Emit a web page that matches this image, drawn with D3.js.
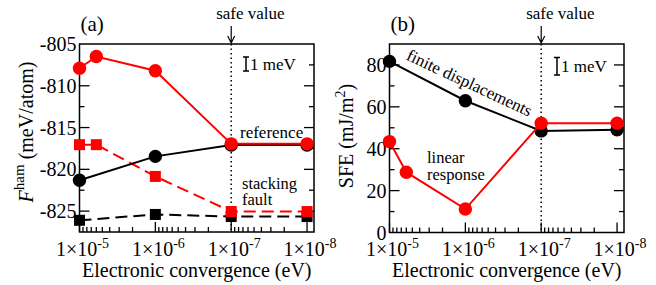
<!DOCTYPE html>
<html>
<head>
<meta charset="utf-8">
<script src="https://cdn.jsdelivr.net/npm/d3@7"></script>
<style>
  body { margin: 0; background: #fff; }
  svg { display: block; }
  svg text { font-family: "Liberation Serif", "Times New Roman", Times, "DejaVu Serif", serif; }
</style>
</head>
<body>
<script>
// x values (electronic convergence, eV)
var convRed = [1e-5, 6e-6, 1e-6, 1e-7, 1e-8],
    convBlack = [1e-5, 1e-6, 1e-7, 1e-8],
    xTickVals = [1e-5, 1e-6, 1e-7, 1e-8],
    xTickExp = ["-5", "-6", "-7", "-8"];

// panel (a): F^ham (meV/atom)
var refRed = [-807.9, -806.5, -808.2, -816.95, -816.95],
    refBlack = [-821.3, -818.45, -817.1, -817.1],
    sfRed = [-817.05, -817.05, -820.85, -825.05, -825.05],
    sfBlack = [-826.1, -825.4, -825.65, -825.65],
    yTicksA = [-825, -820, -815, -810, -805];

// panel (b): SFE (mJ/m^2)
var fdBlack = [81.7, 62.9, 48.5, 49.0],
    lrRed = [43.4, 28.8, 11.2, 52.2, 52.2],
    yTicksB = [0, 20, 40, 60, 80];

var safeValue = 1e-7;
var serif = '"Liberation Serif", "Times New Roman", Times, serif';

var svg = d3.select('body').append('svg').attr('width', 656).attr('height', 285)
    .attr('font-family', serif);

function zip(xs, ys) {
    return xs.map(function(x, i) { return [x, ys[i]]; });
}

function label(g, x, y, size, str) {
    return g.append('text').attr('x', x).attr('y', y)
        .style('font-family', serif).attr('font-size', size).text(str);
}

function drawPanel(p) {
    var g = svg.append('g'),
        x = d3.scaleLog().domain([1e-5, 8.1e-9]).range([p.left, p.right]),
        y = d3.scaleLinear().domain(p.yDomain).range([p.bottom, p.top]);

    // dotted "safe value" line
    g.append('line')
        .attr('x1', x(safeValue)).attr('x2', x(safeValue))
        .attr('y1', p.top).attr('y2', p.bottom)
        .attr('stroke', '#000').attr('stroke-width', 1.5)
        .attr('stroke-dasharray', '1.5,3');

    // y ticks (inward, both sides)
    var yMinor = d3.range(p.yDomain[0], p.yDomain[1] + 0.001, p.yMinorStep);
    yMinor.forEach(function(v) {
        var major = p.yTicks.indexOf(Math.round(v * 100) / 100) >= 0,
            len = major ? 10 : 5;
        if (y(v) < p.top + 0.5 || y(v) > p.bottom - 0.5) return;
        g.append('line').attr('x1', p.left).attr('x2', p.left + len)
            .attr('y1', y(v)).attr('y2', y(v)).attr('stroke', '#000').attr('stroke-width', 1.3);
        g.append('line').attr('x1', p.right).attr('x2', p.right - len)
            .attr('y1', y(v)).attr('y2', y(v)).attr('stroke', '#000').attr('stroke-width', 1.3);
    });
    p.yTicks.forEach(function(v) {
        label(g, p.left - 3, y(v) + 7, 20, v).attr('text-anchor', 'end');
    });

    // x ticks (log, inward from bottom)
    [1e-8, 1e-7, 1e-6, 1e-5].forEach(function(dec) {
        for (var k = 1; k <= 9; k++) {
            var v = dec * k;
            if (v > 1e-5 * 1.0001 || v < 8.1e-9) continue;
            var len = k === 1 ? 10 : 5;
            g.append('line').attr('x1', x(v)).attr('x2', x(v))
                .attr('y1', p.bottom).attr('y2', p.bottom - len)
                .attr('stroke', '#000').attr('stroke-width', 1.3);
        }
    });
    xTickVals.forEach(function(v, i) {
        var t = label(g, x(v) + 3, 256, 20, null).attr('text-anchor', 'middle');
        t.append('tspan').text('1\u00d710');
        t.append('tspan').attr('dy', -8).attr('font-size', 14).text(xTickExp[i]);
    });

    // frame
    g.append('rect').attr('x', p.left).attr('y', p.top)
        .attr('width', p.right - p.left).attr('height', p.bottom - p.top)
        .attr('fill', 'none').attr('stroke', '#000').attr('stroke-width', 1.5);

    // x title
    label(g, (p.left + p.right) / 2, 277, 20, 'Electronic convergence (eV)')
        .attr('text-anchor', 'middle');

    // panel label
    label(g, p.left + 1, 31, 21, p.label);

    // safe value arrow
    var sx = x(safeValue);
    label(g, sx - 15, 19, 17, 'safe value');
    g.append('path')
        .attr('d', 'M' + sx + ',26 V' + (p.top - 1) + ' M' + (sx - 3.5) + ',' + (p.top - 8) +
              ' L' + sx + ',' + (p.top - 1) + ' L' + (sx + 3.5) + ',' + (p.top - 8))
        .attr('fill', 'none').attr('stroke', '#000').attr('stroke-width', 1.2);

    // 1 meV scale bar
    var bx = p.barX, by = p.barTop, bh = p.barH;
    g.append('path')
        .attr('d', 'M' + bx + ',' + by + ' V' + (by + bh) +
              ' M' + (bx - 3) + ',' + by + ' H' + (bx + 3) +
              ' M' + (bx - 3) + ',' + (by + bh) + ' H' + (bx + 3))
        .attr('stroke', '#000').attr('stroke-width', 1.5).attr('fill', 'none');
    label(g, bx + 4, by + bh / 2 + 6, 17, '1 meV');

    return {g: g, x: x, y: y};
}

function drawSeries(P, xs, ys, color, shape, dashed) {
    var line = d3.line().x(function(d) { return P.x(d[0]); }).y(function(d) { return P.y(d[1]); }),
        pts = zip(xs, ys);
    P.g.append('path').datum(pts).attr('d', line)
        .attr('fill', 'none').attr('stroke', color).attr('stroke-width', 2)
        .attr('stroke-dasharray', dashed ? '12,6' : null);
    if (shape === 'circle') {
        P.g.selectAll(null).data(pts).enter().append('circle')
            .attr('cx', function(d) { return P.x(d[0]); })
            .attr('cy', function(d) { return P.y(d[1]); })
            .attr('r', 6.7).attr('fill', color);
    } else {
        P.g.selectAll(null).data(pts).enter().append('rect')
            .attr('x', function(d) { return P.x(d[0]) - 5.5; })
            .attr('y', function(d) { return P.y(d[1]) - 5.5; })
            .attr('width', 11).attr('height', 11).attr('fill', color);
    }
}

// ---- panel (a)
var A = drawPanel({
    left: 79.5, right: 314, top: 44, bottom: 232,
    yDomain: [-827.5, -805], yTicks: yTicksA, yMinorStep: 2.5,
    label: '(a)', barX: 246, barTop: 57, barH: 14
});
drawSeries(A, convBlack, sfBlack, '#000', 'square', true);
drawSeries(A, convRed, sfRed, '#f00', 'square', true);
drawSeries(A, convBlack, refBlack, '#000', 'circle', false);
drawSeries(A, convRed, refRed, '#f00', 'circle', false);

var yTitleA = label(A.g, 0, 0, 20, null).attr('transform', 'translate(33,132) rotate(-90)')
    .attr('text-anchor', 'middle');
yTitleA.append('tspan').attr('font-style', 'italic').text('F');
yTitleA.append('tspan').attr('dy', -9).attr('font-size', 15).text('ham');
yTitleA.append('tspan').attr('dy', 9).text(' (meV/atom)');

label(A.g, 240, 138, 17, 'reference');
label(A.g, 242, 189, 16.5, 'stacking');
label(A.g, 242, 205, 16.5, 'fault');

// ---- panel (b)
var B = drawPanel({
    left: 389.5, right: 624, top: 44, bottom: 232.5,
    yDomain: [0, 90], yTicks: yTicksB, yMinorStep: 10,
    label: '(b)', barX: 557, barTop: 57.5, barH: 17.5
});
drawSeries(B, convBlack, fdBlack, '#000', 'circle', false);
drawSeries(B, convRed, lrRed, '#f00', 'circle', false);

var yTitleB = label(B.g, 0, 0, 20, null).attr('transform', 'translate(353,136) rotate(-90)')
    .attr('text-anchor', 'middle');
yTitleB.append('tspan').text('SFE (mJ/m');
yTitleB.append('tspan').attr('dy', -8).attr('font-size', 14).text('2');
yTitleB.append('tspan').attr('dy', 8).text(')');

label(B.g, 0, 0, 17, 'finite displacements').attr('transform', 'translate(467,88) rotate(25)')
    .attr('text-anchor', 'middle');
label(B.g, 427, 163, 16.5, 'linear');
label(B.g, 427, 180, 16.5, 'response');
</script>
</body>
</html>
